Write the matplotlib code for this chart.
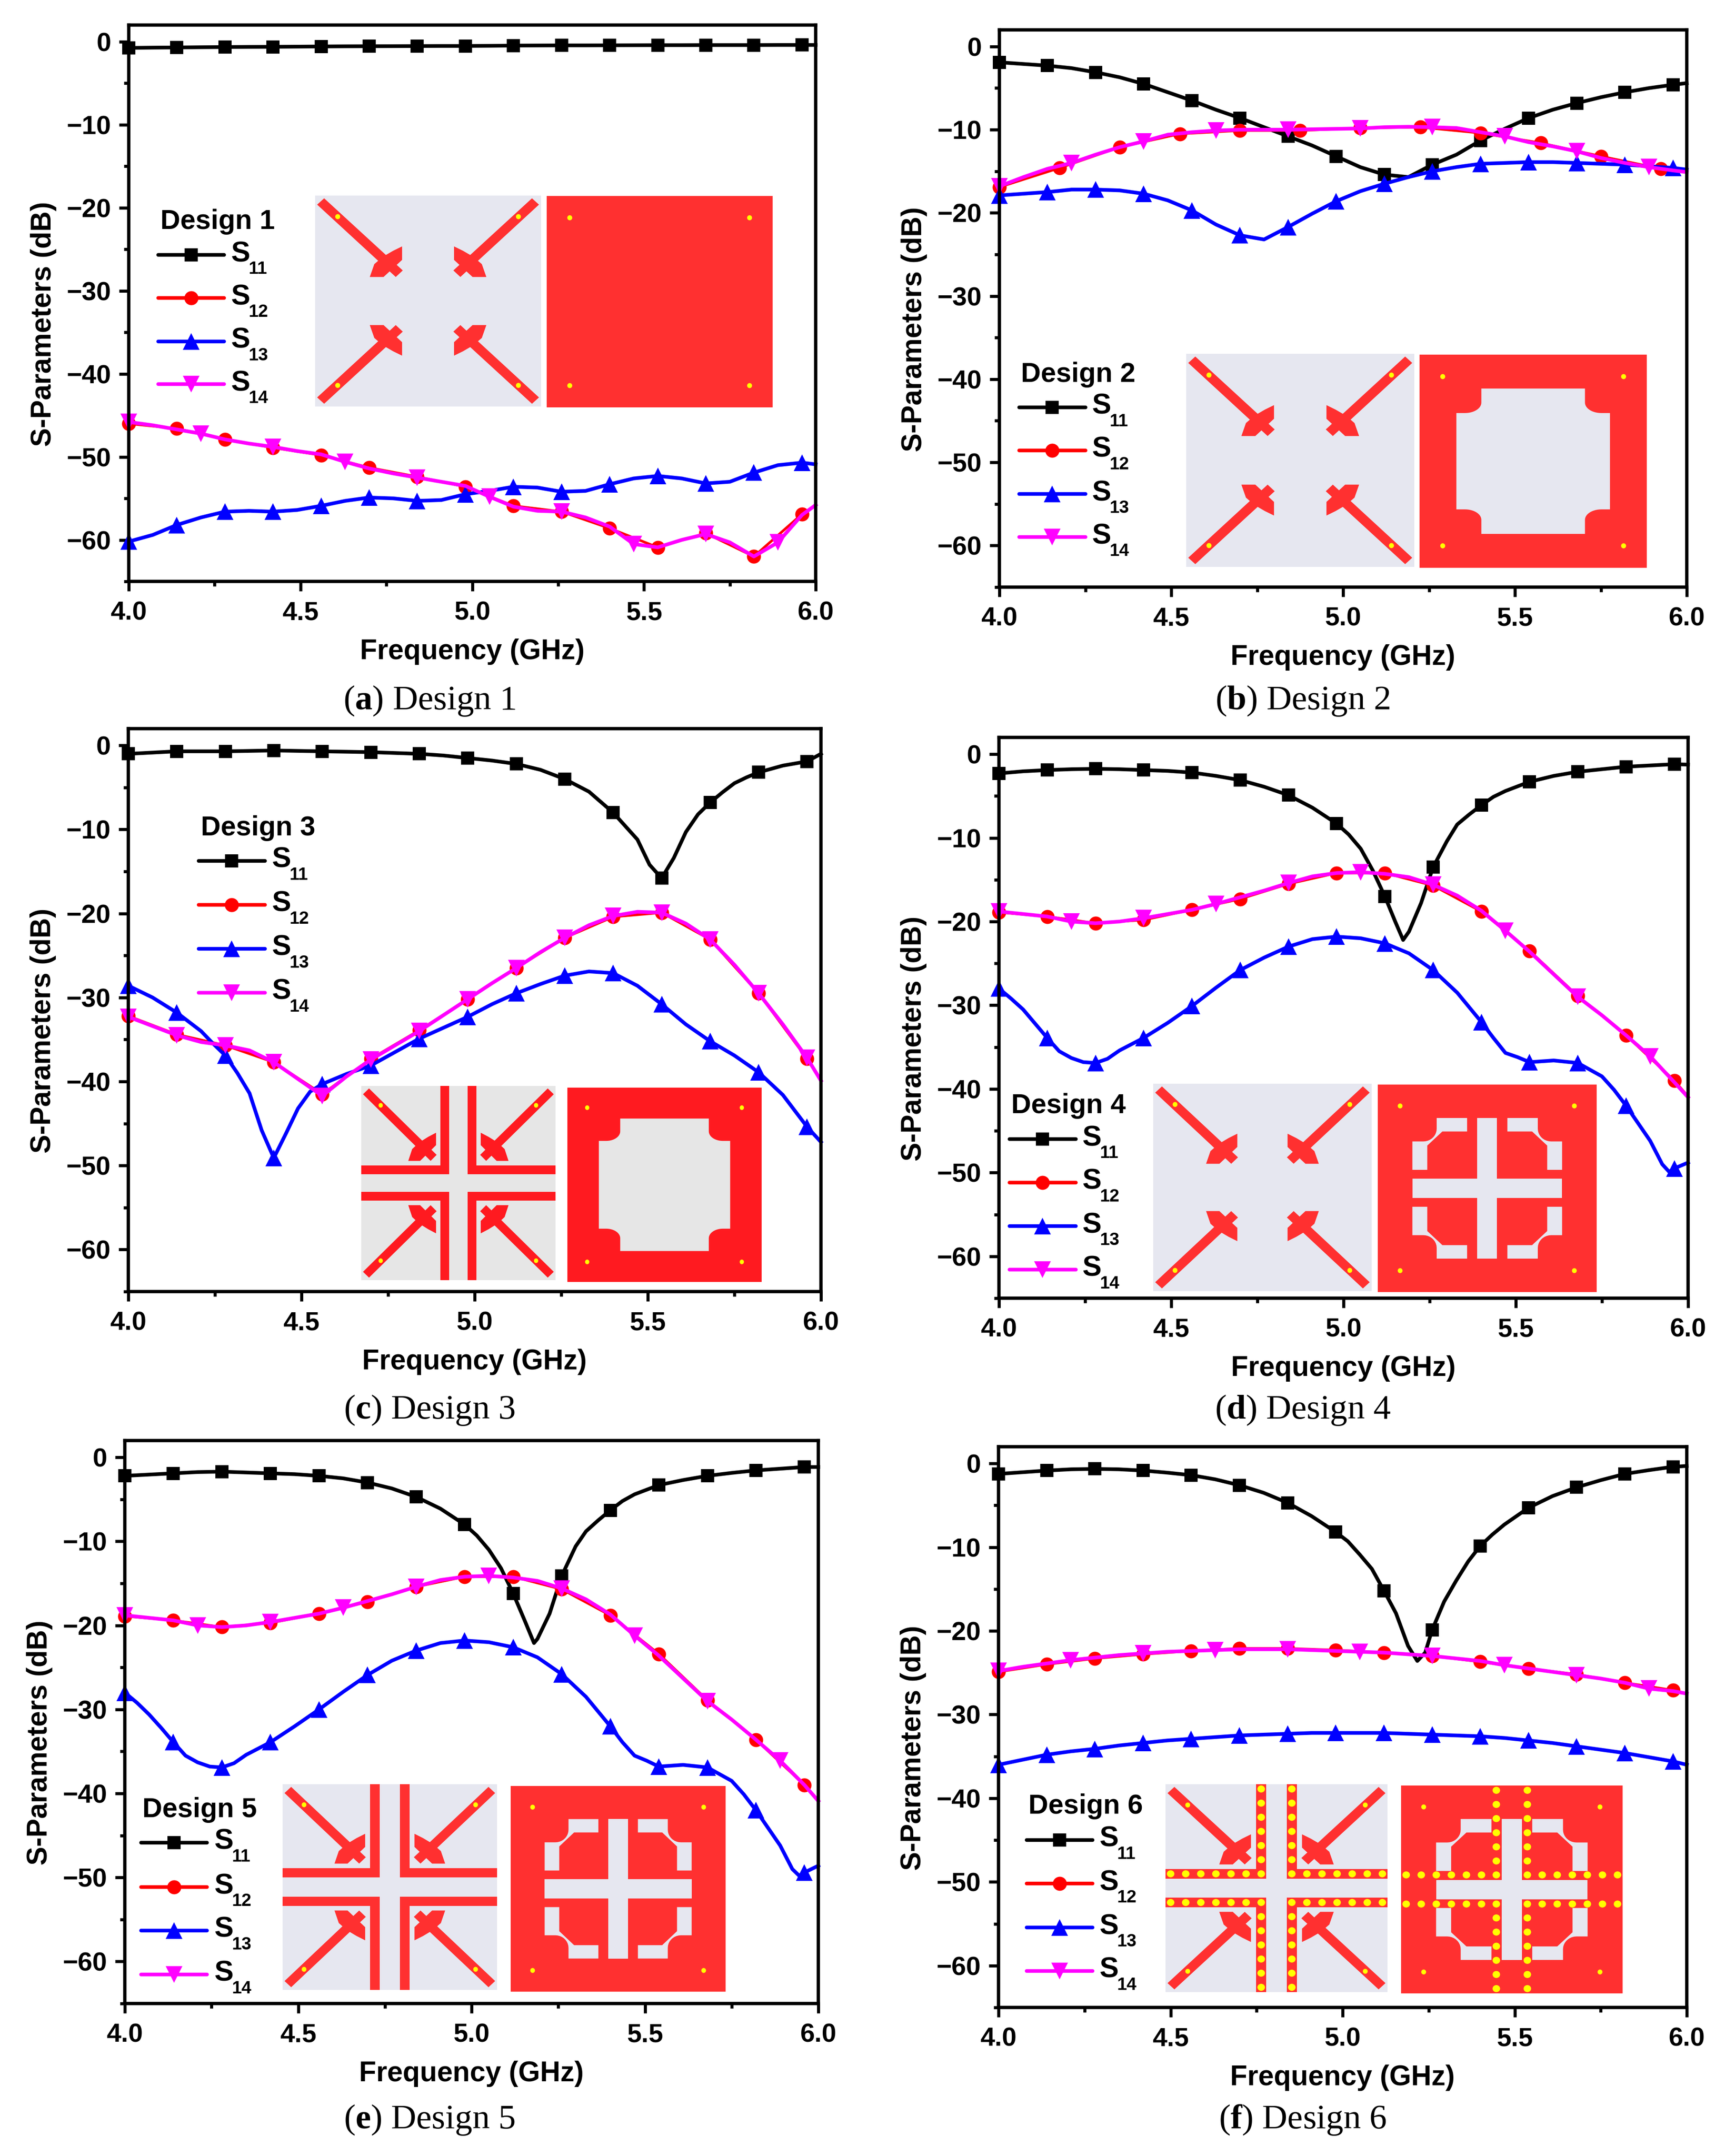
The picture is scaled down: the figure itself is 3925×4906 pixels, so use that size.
import numpy as np
import matplotlib
matplotlib.use("Agg")
import matplotlib.pyplot as plt
from matplotlib.patches import Polygon, Rectangle, Ellipse
from matplotlib.lines import Line2D

plt.rcParams['font.family'] = ['Liberation Sans', 'DejaVu Sans']
plt.rcParams['font.weight'] = 'bold'
plt.rcParams['mathtext.fontset'] = 'custom'
plt.rcParams['mathtext.bf'] = 'Liberation Sans:bold'
plt.rcParams['mathtext.rm'] = 'Liberation Serif'
plt.rcParams['mathtext.cal'] = 'Liberation Serif:bold'

# ---------- data ----------
FREQ = [4.00,4.07,4.14,4.21,4.28,4.35,4.42,4.49,4.56,4.63,4.70,4.77,4.84,4.91,4.98,
        5.05,5.12,5.19,5.26,5.33,5.40,5.47,5.54,5.61,5.68,5.75,5.82,5.89,5.96,6.00]
FREQ_S12 = [4.00,4.14,4.28,4.42,4.56,4.70,4.84,4.98,5.12,5.26,5.40,5.54,5.68,5.82,5.96,6.00]
FREQ_S12_B = [4.00,4.175,4.35,4.525,4.70,4.875,5.05,5.225,5.40,5.575,5.75,5.925,6.00]

A_S11 = [-0.75,-0.72,-0.7,-0.67,-0.65,-0.63,-0.62,-0.6,-0.58,-0.56,-0.55,-0.54,-0.53,-0.52,-0.52,
         -0.5,-0.47,-0.46,-0.45,-0.45,-0.44,-0.43,-0.42,-0.42,-0.41,-0.41,-0.41,-0.4,-0.4,-0.4]
A_S12 = [-46.0,-46.6,-47.9,-48.9,-49.8,-51.3,-52.4,-53.6,-55.9,-56.6,-58.6,-60.9,-59.2,-62.0,-56.9,-55.8]
A_S13 = [-60.2,-59.4,-58.2,-57.3,-56.6,-56.5,-56.6,-56.4,-55.9,-55.3,-54.9,-55.0,-55.3,-55.2,-54.5,
         -54.1,-53.6,-53.7,-54.2,-54.1,-53.3,-52.6,-52.3,-52.6,-53.2,-53.0,-51.9,-51.0,-50.7,-50.9]
A_S14 = [-45.8,-46.2,-46.7,-47.2,-47.9,-48.4,-48.8,-49.3,-49.7,-50.6,-51.4,-52.0,-52.5,-53.0,-53.5,
         -54.8,-56.0,-56.5,-56.6,-57.3,-58.4,-60.5,-60.9,-60.0,-59.3,-60.3,-62.0,-60.3,-57.0,-55.8]

B_S11 = [-1.9,-2.1,-2.3,-2.6,-3.1,-3.7,-4.5,-5.5,-6.5,-7.6,-8.6,-9.7,-10.8,-11.9,-13.2,
         -14.5,-15.4,-15.7,-14.2,-13.0,-11.3,-9.9,-8.6,-7.6,-6.8,-6.1,-5.5,-5.0,-4.6,-4.4]
B_S12 = [-16.9,-14.6,-12.1,-10.5,-10.1,-10.1,-9.8,-9.7,-10.4,-11.6,-13.2,-14.7,-15.1]
B_S13 = [-17.9,-17.7,-17.5,-17.2,-17.2,-17.3,-17.7,-18.5,-19.7,-21.4,-22.7,-23.2,-21.7,-20.1,-18.6,
         -17.4,-16.5,-15.7,-15.0,-14.5,-14.1,-14.0,-13.9,-13.9,-14.0,-14.1,-14.2,-14.4,-14.6,-14.8]
B_S14 = [-16.8,-15.7,-14.7,-14.0,-13.0,-12.1,-11.4,-10.6,-10.3,-10.1,-10.0,-10.0,-10.0,-9.95,-9.9,
         -9.85,-9.7,-9.65,-9.7,-9.8,-10.3,-10.8,-11.5,-12.0,-12.6,-13.4,-14.0,-14.5,-14.9,-15.1]

C_S11 = [-1.0,-0.85,-0.7,-0.7,-0.7,-0.65,-0.6,-0.65,-0.7,-0.75,-0.8,-0.9,-1.0,-1.2,-1.5,
         -1.8,-2.2,-2.9,-4.0,-5.5,-8.0,-11.2,-15.8,-10.3,-6.8,-4.5,-3.2,-2.4,-1.9,-1.0]
C_S11_XF = [5.435,5.505,5.575,5.645,5.715,5.785]
C_S11_XV = [-9.6,-14.2,-13.4,-8.2,-5.6,-3.8]
C_S12 = [-32.2,-34.4,-35.7,-37.7,-41.5,-37.3,-33.9,-30.2,-26.5,-22.9,-20.4,-19.9,-23.1,-29.5,-37.3,-39.9]
C_S13 = [-28.6,-30.0,-31.8,-34.0,-36.9,-41.4,-49.1,-43.2,-40.3,-39.1,-38.1,-36.5,-34.9,-33.6,-32.3,
         -30.8,-29.5,-28.4,-27.4,-26.9,-27.1,-28.6,-30.8,-33.2,-35.2,-36.9,-38.9,-41.6,-45.4,-47.2]
C_S13_XF = [4.245,4.315,4.385,4.455,4.525]
C_S13_XV = [-35.5,-39.0,-45.8,-46.2,-41.2]
C_S14 = [-32.3,-33.4,-34.5,-35.3,-35.7,-36.3,-37.7,-39.7,-41.7,-39.4,-37.4,-35.7,-34.0,-32.1,-30.2,
         -28.3,-26.5,-24.6,-22.9,-21.4,-20.3,-19.8,-19.9,-21.2,-23.1,-26.1,-29.5,-33.2,-37.2,-39.9]

D_S11 = [-2.3,-2.05,-1.9,-1.8,-1.75,-1.8,-1.9,-2.0,-2.2,-2.6,-3.1,-3.9,-4.9,-6.4,-8.3,
         -11.3,-17.0,-21.2,-13.5,-8.4,-6.1,-4.4,-3.3,-2.6,-2.1,-1.8,-1.5,-1.35,-1.2,-1.25]
D_S11_XF = [5.015,5.085,5.15,5.173,5.225,5.30,5.365,5.435]
D_S11_XV = [-9.6,-13.9,-20.0,-22.2,-17.8,-10.4,-7.2,-5.1]
D_S12 = [-18.9,-19.4,-20.2,-19.8,-18.6,-17.3,-15.5,-14.2,-14.2,-15.7,-18.8,-23.5,-28.9,-33.6,-39.0,-40.9]
D_S13 = [-28.0,-30.5,-33.9,-36.3,-36.9,-35.4,-33.9,-32.1,-30.1,-27.9,-25.8,-24.3,-23.0,-22.1,-21.8,
         -22.0,-22.6,-23.8,-25.8,-28.5,-32.0,-35.7,-36.8,-36.6,-36.9,-38.5,-42.0,-46.2,-49.5,-48.8]
D_S13_XF = [4.035,4.105,4.175,4.245,4.315,5.435,5.505,5.785,5.855,5.925,5.945]
D_S13_XV = [-29.2,-32.2,-35.5,-36.8,-36.4,-33.9,-36.2,-40.1,-44.1,-49.0,-49.9]
D_S14 = [-18.8,-19.1,-19.4,-20.0,-20.2,-20.0,-19.6,-19.1,-18.6,-17.9,-17.1,-16.3,-15.4,-14.6,-14.2,
         -14.1,-14.3,-14.7,-15.6,-16.9,-18.7,-21.1,-23.6,-26.3,-29.0,-31.2,-33.6,-36.1,-39.2,-41.0]

E_S11 = [-2.2,-2.05,-1.9,-1.75,-1.7,-1.8,-1.9,-2.0,-2.2,-2.5,-3.0,-3.7,-4.7,-6.1,-8.0,
         -11.0,-16.2,-21.6,-14.1,-8.8,-6.3,-4.4,-3.3,-2.7,-2.2,-1.85,-1.55,-1.35,-1.15,-1.15]
E_S11_XF = [5.015,5.085,5.155,5.18,5.225,5.30,5.365,5.435]
E_S11_XV = [-9.3,-13.2,-19.6,-22.1,-18.6,-10.6,-7.5,-5.2]
E_S12 = [-18.9,-19.4,-20.2,-19.7,-18.6,-17.2,-15.4,-14.2,-14.2,-15.7,-18.8,-23.4,-28.9,-33.6,-39.0,-40.8]
E_S13 = [-28.0,-30.6,-33.9,-36.3,-36.9,-35.4,-33.9,-32.0,-30.0,-27.9,-25.9,-24.2,-23.0,-22.1,-21.8,
         -22.0,-22.6,-23.8,-25.8,-28.5,-32.0,-35.5,-36.8,-36.6,-36.9,-38.5,-42.0,-46.2,-49.4,-48.6]
E_S13_XF = [4.035,4.105,4.175,4.245,4.315,5.435,5.505,5.785,5.855,5.925,5.945]
E_S13_XV = [-29.2,-32.2,-35.5,-36.8,-36.4,-33.9,-36.1,-40.1,-44.1,-49.0,-49.8]
E_S14 = [-18.8,-19.1,-19.4,-20.0,-20.2,-20.0,-19.6,-19.1,-18.6,-17.9,-17.1,-16.3,-15.4,-14.6,-14.2,
         -14.1,-14.3,-14.7,-15.6,-16.9,-18.7,-21.2,-23.6,-26.3,-29.0,-31.2,-33.6,-36.1,-39.0,-40.9]

F_S11 = [-1.25,-1.05,-0.85,-0.7,-0.65,-0.7,-0.85,-1.1,-1.4,-1.9,-2.6,-3.5,-4.7,-6.3,-8.2,
         -10.9,-15.2,-21.8,-19.9,-14.0,-9.85,-7.3,-5.3,-3.9,-2.85,-2.0,-1.25,-0.8,-0.4,-0.3]
F_S11_XF = [5.015,5.085,5.155,5.217,5.24,5.295,5.365,5.435]
F_S11_XV = [-9.3,-12.6,-17.9,-23.6,-22.6,-16.5,-11.7,-8.5]
F_S12 = [-24.9,-24.0,-23.3,-22.8,-22.4,-22.1,-22.1,-22.3,-22.6,-23.0,-23.7,-24.5,-25.2,-26.2,-27.1,-27.5]
F_S13 = [-36.0,-35.4,-34.8,-34.4,-34.1,-33.7,-33.4,-33.1,-32.9,-32.7,-32.5,-32.4,-32.3,-32.2,-32.2,
         -32.2,-32.2,-32.3,-32.4,-32.5,-32.6,-32.8,-33.1,-33.4,-33.8,-34.2,-34.6,-35.1,-35.6,-36.0]
F_S14 = [-24.8,-24.3,-23.9,-23.5,-23.2,-22.9,-22.7,-22.5,-22.4,-22.3,-22.2,-22.2,-22.2,-22.3,-22.4,
         -22.5,-22.6,-22.8,-23.0,-23.3,-23.6,-24.1,-24.5,-24.9,-25.3,-25.7,-26.2,-26.9,-27.2,-27.5]

NAMES = ['a','b','c','d','e','f']
SERIES = ['S11','S12','S13','S14']
SUBS = ['11','12','13','14']
X_TICKS = [4.0,4.5,5.0,5.5,6.0]
X_MINOR = [4.25,4.75,5.25,5.75]
Y_TICKS = [0,-10,-20,-30,-40,-50,-60]
Y_MINOR = [-5,-15,-25,-35,-45,-55,-65]

# ---------- style and layout ----------
W, H = 3925, 4906
BLACK, RED, BLUE, MAG = '#000000', '#FF0000', '#0000FF', '#FF00FF'
COLORS = [BLACK, RED, BLUE, MAG]
MARKS = ['s','o','^','v']
MSIZE = [21, 23, 27, 27]
WIDTHS = [6, 4.2, 6, 6]
SUB1 = ('#E6E7F0', '#FF3030')
SUB3 = ('#E6E6E6', '#FF1A20')
YEL = '#FFFF00'

panels = {
 'a': dict(box=(293,1856,57,1323), s11=(A_S11,[],[]), s12=(FREQ_S12,A_S12), s13=(A_S13,[],[]), s14=A_S14, s14step=.21,
           cap=(977,1595), leg=(365,505,[580,678,777,874],360,510,525), title='Design 1',
           left=(717,1231,445,925), right=(1244,1758,446,927), lt='plain', rt='solid', col=SUB1),
 'b': dict(box=(2274,3838,68,1336), s11=(B_S11,[],[]), s12=(FREQ_S12_B,B_S12), s13=(B_S13,[],[]), s14=B_S14, s14step=.21,
           cap=(2964,1595), leg=(2323,852,[927,1025,1124,1222],2319,2470,2484), title='Design 2',
           left=(2699,3218,805,1290), right=(3230,3747,807,1292), lt='plain', rt='frame', col=SUB1),
 'c': dict(box=(292,1868,1658,2939), s11=(C_S11,C_S11_XF,C_S11_XV), s12=(FREQ_S12,C_S12), s13=(C_S13,C_S13_XF,C_S13_XV), s14=C_S14, s14step=.14,
           cap=(977,3209), leg=(457,1884,[1959,2059,2159,2259],452,603,618), title='Design 3',
           left=(822,1264,2471,2913), right=(1291,1733,2475,2917), lt='stub', rt='frame', col=SUB3),
 'd': dict(box=(2273,3841,1678,2954), s11=(D_S11,D_S11_XF,D_S11_XV), s12=(FREQ_S12,D_S12), s13=(D_S13,D_S13_XF,D_S13_XV), s14=D_S14, s14step=.21,
           cap=(2964,3209), leg=(2301,2517,[2592,2691,2790,2889],2297,2448,2462), title='Design 4',
           left=(2624,3121,2466,2938), right=(3135,3633,2468,2940), lt='plain', rt='slot', col=SUB1),
 'e': dict(box=(284,1862,3278,4559), s11=(E_S11,E_S11_XF,E_S11_XV), s12=(FREQ_S12,E_S12), s13=(E_S13,E_S13_XF,E_S13_XV), s14=E_S14, s14step=.21,
           cap=(977,4824), leg=(324,4119,[4193,4294,4393,4493],321,471,487), title='Design 5',
           left=(643,1131,4060,4528), right=(1162,1651,4064,4532), lt='stub', rt='slot', col=SUB1),
 'f': dict(box=(2272,3838,3292,4568), s11=(F_S11,F_S11_XF,F_S11_XV), s12=(FREQ_S12,F_S12), s13=(F_S13,[],[]), s14=F_S14, s14step=.21,
           cap=(2964,4824), leg=(2340,4111,[4187,4286,4386,4485],2336,2486,2501), title='Design 6',
           left=(2652,3157,4060,4533), right=(3188,3692,4063,4536), lt='stubdots', rt='slotdots', col=SUB1),
}

fig = plt.figure(figsize=(W/100, H/100), dpi=100, facecolor='white')
ov = fig.add_axes([0,0,1,1], zorder=10)
ov.set_xlim(0,W); ov.set_ylim(H,0); ov.axis('off'); ov.patch.set_alpha(0)

def merged(base, xf, xv):
    pairs = sorted(list(zip(FREQ, base)) + list(zip(xf, xv)))
    return [p[0] for p in pairs], [p[1] for p in pairs]

def mark_idx(xs, step):
    return [i for i, x in enumerate(xs) if abs((x-4)/step - round((x-4)/step)) < 1e-6 and x < 5.999]

def to_px(box):
    def f(u, v):
        return (box[0]+u*(box[1]-box[0]), box[2]+v*(box[3]-box[2]))
    return f

def mirrors(pts):
    out = []
    for sx, sy in [(0,0),(1,0),(0,1),(1,1)]:
        out.append([((1-u) if sx else u, (1-v) if sy else v) for u, v in pts])
    return out

def poly(f, pts, color, z=2):
    ov.add_patch(Polygon([f(u,v) for u,v in pts], closed=True, fc=color, ec='none', zorder=z))

def dots(f, pts, ru, rv, box, z=5):
    for u, v in pts:
        ov.add_patch(Ellipse(f(u,v), 2*ru*(box[1]-box[0]), 2*rv*(box[3]-box[2]), fc=YEL, ec='none', zorder=z))

ARM = [(.04,.013),(.388,.355),(.357,.386),(.009,.043)]
FAN = [(.385,.241),(.385,.305),(.303,.386),(.242,.386),(.262,.325),(.30,.29),(.345,.262)]
DL = [.023,.091,.159,.227,.295,.363]

def draw_left(box, kind, col):
    f = to_px(box)
    ov.add_patch(Rectangle((box[0],box[2]), box[1]-box[0], box[3]-box[2], fc=col[0], ec='none', zorder=1))
    for p in mirrors(ARM)+mirrors(FAN):
        poly(f, p, col[1])
    if kind != 'plain':
        L = [(0,.409),(.407,.409),(.407,0),(.453,0),(.453,.454),(0,.454)]
        for p in mirrors(L):
            poly(f, p, col[1])
    dots(f, [(.10,.10),(.90,.10),(.10,.90),(.90,.90)], .011, .012, box)
    if kind == 'stubdots':
        pts = []
        for a in (.431,.569):
            for d in DL + [1-x for x in DL]:
                pts.append((a,d))
            for d in DL + [.431] + [1-x for x in DL] + [.569]:
                pts.append((d,a))
        dots(f, pts, .017, .017, box)

def draw_right(box, kind, col):
    f = to_px(box)
    ov.add_patch(Rectangle((box[0],box[2]), box[1]-box[0], box[3]-box[2], fc=col[1], ec='none', zorder=1))
    if kind == 'frame':
        t = np.linspace(0, np.pi/2, 14)
        arc = [(.2+.072*np.cos(a), .225+.049*np.sin(a)) for a in t]
        ul = [(.272,.159)] + arc + [(.162,.274)]
        ur = [(1-u,v) for u,v in ul][::-1]
        ll = [(u,1-v) for u,v in ul][::-1]
        lr = [(1-u,1-v) for u,v in ul]
        poly(f, ul+ll+lr+ur, col[0])
    if kind in ('slot','slotdots'):
        poly(f, [(.454,.161),(.545,.161),(.545,.84),(.454,.84)], col[0])
        poly(f, [(.158,.454),(.842,.454),(.842,.547),(.158,.547)], col[0])
        t = np.linspace(np.pi/2, 0, 10)
        arc = [(.208+.061*np.cos(a), .213+.061*np.sin(a)) for a in t]
        L = [(.269,.161),(.408,.161),(.408,.226),(.295,.226),(.226,.294),(.226,.411),(.158,.411),(.158,.274)] + arc
        for p in mirrors(L):
            poly(f, p, col[0])
    dots(f, [(.102,.103),(.898,.103),(.102,.897),(.898,.897)], .011, .012, box)
    if kind == 'slotdots':
        pts = []
        for a in (.43,.57):
            for d in DL + [1-x for x in DL]:
                pts.append((a,d))
            for d in DL + [.43] + [1-x for x in DL] + [.57]:
                pts.append((d,a))
        dots(f, pts, .017, .017, box)

for name in NAMES:
    p = panels[name]
    L,R,T,B = p['box']
    ax = fig.add_axes([L/W, 1-B/H, (R-L)/W, (B-T)/H], zorder=1)
    ax.set_xlim(4,6); ax.set_ylim(-65,2)
    s11x, s11y = merged(*p['s11'])
    s13x, s13y = merged(*p['s13'])
    s12x, s12y = p['s12']
    step12 = .175 if name == 'b' else .14
    curves = [(s11x,s11y,.14),(s12x,s12y,step12),(s13x,s13y,.14),(FREQ,p['s14'],p['s14step'])]
    for (xs,ys,st),c,m,ms,lw,n in zip(curves,COLORS,MARKS,MSIZE,WIDTHS,SERIES):
        ax.plot(xs, ys, color=c, lw=lw, marker=m, ms=ms, mew=0, markevery=mark_idx(xs,st),
                clip_on=False, solid_joinstyle='round', label=n)
    ax.set_xticks(X_TICKS); ax.set_xticks(X_MINOR, minor=True)
    ax.set_xticklabels(['4.0','4.5','5.0','5.5','6.0'])
    ax.set_yticks(Y_TICKS); ax.set_yticks(Y_MINOR, minor=True)
    for s in ax.spines.values():
        s.set_linewidth(5.4)
    ax.tick_params(which='major', length=16, width=5, labelsize=43, pad=13)
    ax.tick_params(which='minor', length=8, width=5)
    ax.tick_params(axis='x', which='major', pad=16)
    ax.set_xlabel('Frequency (GHz)', fontsize=46, fontweight='bold', va='center')
    ax.set_ylabel('S-Parameters (dB)', fontsize=46, fontweight='bold', va='center')
    ax.xaxis.set_label_coords(.5, -160/(B-T))
    ax.yaxis.set_label_coords(-194/(R-L), .5 - 47/(B-T))

    # legend drawn by hand, as in the figure
    tx, ty, rows, x0, x1, sx = p['leg']
    ov.text(tx, ty, p['title'], fontsize=45, fontweight='bold', ha='left', va='center')
    for y, c, m, ms, sub in zip(rows, COLORS, MARKS, MSIZE, SUBS):
        ov.add_line(Line2D([x0,x1],[y,y], color=c, lw=6, zorder=3, solid_capstyle='round'))
        ov.add_line(Line2D([(x0+x1)/2],[y], color=c, marker=m, ms=ms, mew=0, zorder=3))
        ov.text(sx, y-2, 'S', fontsize=47, ha='left', va='center')
        ov.text(sx+41, y+32, sub, fontsize=29, ha='left', va='center')

    draw_left(p['left'], p['lt'], p['col'])
    draw_right(p['right'], p['rt'], p['col'])

    cx, cy = p['cap']
    fig.text(cx/W, 1-cy/H, r'($\mathcal{%s}$) %s' % (name, p['title']), fontsize=57,
             family='Liberation Serif', fontweight='normal', ha='center', va='center')

fig.savefig('out.png', dpi=100)
